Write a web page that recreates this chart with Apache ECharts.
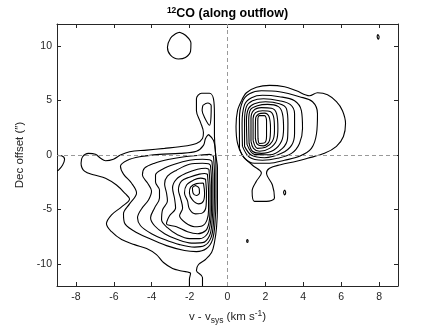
<!DOCTYPE html>
<html><head><meta charset="utf-8">
<script src="https://cdn.jsdelivr.net/npm/echarts@6/dist/echarts.min.js"></script>
<style>html,body{margin:0;padding:0;background:#fff}#c{width:440px;height:330px}</style>
</head><body><div id="c"></div>
<script>
const xTicks = [-8, -6, -4, -2, 0, 2, 4, 6, 8];
const yTicks = [-10, -5, 0, 5, 10];

// Blue-shifted lobe contours (v, offset), outermost first
const blueC1 = [[-1.32,-12],[-1.32,-11.21],[-1.64,-10.57],[-1.53,-10.03],[-1.16,-9.57],[-0.84,-8.94],[-0.69,-8.03],[-0.58,-6.66],[-0.53,-4.85],[-0.53,-3.03],[-0.53,-1.21],[-0.63,0.15],[-0.69,1.97],[-0.69,3.79],[-0.74,5.15],[-0.95,5.65],[-1.37,5.65],[-1.64,5.15],[-1.64,4.06],[-1.42,2.97],[-1.27,2.06],[-1.32,1.52],[-1.64,1.06],[-2.53,0.75],[-3.32,0.61],[-4.27,0.45],[-5.17,0.30],[-5.65,0.0],[-6.02,-0.39],[-6.44,-0.53],[-6.70,-0.30],[-6.97,0.06],[-7.34,0.15],[-7.65,-0.16],[-7.73,-0.75],[-7.55,-1.48],[-7.02,-1.84],[-6.44,-2.12],[-5.86,-2.75],[-5.38,-3.57],[-5.17,-4.03],[-5.59,-4.75],[-6.12,-5.48],[-6.39,-6.30],[-6.12,-7.03],[-5.59,-7.75],[-4.91,-8.21],[-4.27,-8.57],[-3.75,-9.12],[-3.38,-9.85],[-2.90,-10.39],[-2.43,-10.62],[-1.95,-10.85],[-2.01,-11.39],[-2.01,-12]];
const blueC2 = [[-1.00,1.88],[-0.74,1.34],[-0.63,0.15],[-0.61,-1.66],[-0.61,-3.94],[-0.66,-6.21],[-0.79,-7.75],[-1.11,-8.57],[-1.64,-8.85],[-2.27,-8.75],[-3.22,-8.30],[-4.12,-7.66],[-4.96,-6.94],[-5.44,-6.21],[-5.49,-5.39],[-5.17,-4.48],[-4.80,-3.48],[-5.07,-2.57],[-5.49,-1.75],[-5.65,-1.03],[-5.28,-0.48],[-4.64,-0.16],[-3.59,0.06],[-2.53,0.15],[-1.64,0.34],[-1.27,0.88],[-1.16,1.52]];
const blueC3 = [[-0.74,-0.12],[-0.69,-1.66],[-0.69,-3.94],[-0.74,-6.21],[-0.87,-7.57],[-1.21,-8.30],[-1.74,-8.44],[-2.53,-8.21],[-3.32,-7.75],[-4.01,-7.21],[-4.59,-6.48],[-4.75,-5.75],[-4.54,-4.94],[-4.17,-4.12],[-4.01,-3.30],[-4.22,-2.57],[-4.49,-1.84],[-4.38,-1.21],[-3.85,-0.75],[-3.06,-0.39],[-2.27,-0.16],[-1.48,-0.03],[-0.95,0.06]];
const blueC4 = [[-0.82,-0.57],[-0.77,-2.12],[-0.77,-4.39],[-0.82,-6.21],[-0.95,-7.39],[-1.32,-8.03],[-1.90,-8.07],[-2.64,-7.75],[-3.32,-7.21],[-3.85,-6.48],[-4.06,-5.75],[-3.85,-4.85],[-3.59,-3.94],[-3.59,-3.21],[-3.80,-2.48],[-3.80,-1.84],[-3.43,-1.30],[-2.80,-0.85],[-2.01,-0.48],[-1.32,-0.39],[-0.95,-0.44]];
const blueC5 = [[-0.90,-0.94],[-0.84,-2.57],[-0.84,-4.66],[-0.90,-6.21],[-1.06,-7.21],[-1.48,-7.66],[-2.01,-7.66],[-2.64,-7.30],[-3.17,-6.66],[-3.48,-5.94],[-3.43,-5.03],[-3.17,-4.21],[-3.22,-3.48],[-3.32,-2.66],[-3.17,-1.94],[-2.69,-1.39],[-2.01,-0.85],[-1.32,-0.75],[-1.00,-0.80]];
const blueC6 = [[-0.98,-1.30],[-0.92,-3.03],[-0.92,-4.85],[-0.98,-6.21],[-1.16,-6.94],[-1.58,-7.21],[-2.11,-7.03],[-2.69,-6.57],[-3.22,-6.30],[-3.06,-5.57],[-2.74,-4.85],[-2.80,-3.94],[-2.90,-3.03],[-2.69,-2.21],[-2.16,-1.66],[-1.58,-1.30],[-1.16,-1.21]];
const blueC7 = [[-1.06,-1.75],[-1.00,-3.48],[-1.00,-5.03],[-1.08,-5.94],[-1.32,-6.48],[-1.74,-6.57],[-2.22,-6.21],[-2.53,-5.57],[-2.37,-4.85],[-2.48,-3.94],[-2.59,-3.21],[-2.43,-2.39],[-2.01,-2.03],[-1.48,-1.75],[-1.21,-1.70]];
const blueC8 = [[-1.16,-2.21],[-1.11,-3.48],[-1.13,-4.66],[-1.32,-5.30],[-1.69,-5.39],[-2.01,-4.94],[-2.11,-4.21],[-2.27,-3.48],[-2.16,-2.75],[-1.79,-2.30],[-1.42,-2.12]];
const blueC9 = [[-1.27,-2.57],[-1.21,-3.48],[-1.27,-4.21],[-1.53,-4.48],[-1.85,-4.12],[-2.01,-3.48],[-1.95,-2.94],[-1.64,-2.62]];
const blueC10 = [[-1.69,-2.80],[-1.50,-3.03],[-1.48,-3.48],[-1.64,-3.71],[-1.82,-3.48],[-1.85,-3.03]];
const fingerC2 = [[-1.30,4.55],[-1.04,4.76],[-0.86,4.52],[-0.87,3.52],[-0.95,2.73],[-1.21,3.43],[-1.34,4.09]];

// Red-shifted lobe contours
const redC1 = [[0.74,4.97],[1.0,5.70],[1.53,6.20],[2.22,6.38],[3.01,6.25],[3.64,5.88],[4.33,5.43],[4.75,5.70],[5.28,5.52],[5.75,4.88],[6.07,4.06],[6.23,2.88],[6.12,1.70],[5.75,0.79],[5.12,0.15],[4.22,-0.30],[3.64,-0.57],[2.80,-0.89],[2.22,-1.21],[2.06,-1.66],[2.37,-2.75],[2.48,-3.94],[2.06,-4.25],[1.42,-4.25],[1.30,-3.30],[1.53,-2.39],[1.79,-1.66],[1.32,-0.94],[0.79,-0.03],[0.53,1.06],[0.45,2.61],[0.53,4.06]];
const redC2 = [[0.63,0.61],[0.63,3.34],[0.79,4.88],[1.16,5.61],[1.79,5.88],[2.74,5.79],[3.80,5.34],[4.49,4.88],[4.75,3.79],[4.70,1.97],[4.43,0.61],[3.80,-0.12],[3.01,-0.48],[2.22,-0.75],[1.42,-0.75],[0.90,-0.30]];
const redC3 = [[0.79,0.79],[0.77,2.88],[0.90,4.61],[1.27,5.25],[1.85,5.47],[2.74,5.34],[3.54,4.97],[3.90,4.06],[3.96,2.43],[3.80,1.06],[3.38,0.15],[2.64,-0.30],[1.85,-0.48],[1.16,-0.21]];
const redC4 = [[0.90,0.79],[0.90,3.15],[1.00,4.43],[1.32,4.97],[1.90,5.15],[2.74,4.97],[3.32,4.61],[3.54,3.79],[3.54,1.97],[3.38,0.88],[2.85,0.15],[1.95,-0.25],[1.27,-0.03]];
const redC5 = [[1.03,0.97],[1.00,3.15],[1.11,4.25],[1.42,4.70],[2.01,4.88],[2.74,4.70],[3.11,4.25],[3.19,2.88],[3.17,1.52],[2.90,0.61],[2.22,0.02],[1.42,0.06]];
const redC6 = [[1.14,1.06],[1.12,3.15],[1.21,4.15],[1.58,4.52],[2.11,4.64],[2.69,4.43],[2.90,3.79],[2.96,2.43],[2.85,1.25],[2.43,0.43],[1.79,0.15],[1.32,0.34]];
const redC7 = [[1.24,1.25],[1.24,3.34],[1.37,4.06],[1.79,4.34],[2.32,4.29],[2.59,3.79],[2.66,2.43],[2.59,1.34],[2.22,0.61],[1.69,0.34],[1.37,0.61]];
const redC8 = [[1.35,1.34],[1.35,3.34],[1.48,3.88],[1.85,4.06],[2.27,3.97],[2.45,3.34],[2.48,2.25],[2.37,1.25],[2.01,0.70],[1.58,0.61]];
const redC9 = [[1.47,1.52],[1.48,3.25],[1.64,3.75],[1.95,3.84],[2.19,3.52],[2.27,2.43],[2.22,1.34],[1.90,0.84],[1.58,0.97]];
const redC10 = [[1.61,1.52],[1.60,3.15],[1.69,3.61],[1.95,3.61],[2.06,3.15],[2.06,1.70],[1.95,1.11],[1.69,1.06]];

// Small isolated contours
const topBlob = [[-2.53,11.25],[-2.22,10.97],[-1.93,10.25],[-1.95,9.52],[-2.22,8.93],[-2.59,8.79],[-3.01,9.15],[-3.17,9.88],[-3.01,10.70],[-2.74,11.11]];
const cornerBlob = [[7.93,11.05],[8.0,10.85],[7.96,10.6],[7.9,10.85]];
const edgeArc = [[-9.0,-0.03],[-8.76,-0.07],[-8.60,-0.39],[-8.71,-0.94],[-8.92,-1.39],[-9.0,-1.44]];
const dotA = [[3.01,-3.2],[3.07,-3.4],[3.02,-3.65],[2.96,-3.42]];
const dotB = [[1.05,-7.72],[1.09,-7.85],[1.05,-8.0],[1.01,-7.87]];

const openContours = [blueC1, edgeArc];
const closedContours = [blueC2, blueC3, blueC4, blueC5, blueC6, blueC7, blueC8, blueC9, blueC10, fingerC2,
  redC1, redC2, redC3, redC4, redC5, redC6, redC7, redC8, redC9, redC10, topBlob, cornerBlob, dotA, dotB];

const FONT = 'Liberation Sans, Arial, Helvetica, sans-serif';
const AX = '#262626';

function mk(data, closed) {
  const d = closed ? data.concat([data[0]]) : data;
  return { type: 'line', data: d, symbol: 'none', smooth: 0.35, silent: true,
    lineStyle: { color: '#000', width: 1.1 }, z: 3 };
}
const series = [];
openContours.forEach(c => series.push(mk(c, false)));
closedContours.forEach(c => series.push(mk(c, true)));
series[0].markLine = { silent: true, symbol: 'none', label: { show: false },
  lineStyle: { type: [4, 3], color: '#999', width: 1 }, data: [{ xAxis: 0 }, { yAxis: 0 }] };

const axCommon = {
  type: 'value', splitLine: { show: false },
  axisLine: { show: true, onZero: false, lineStyle: { color: AX, width: 1 } },
};
const chart = echarts.init(document.getElementById('c'), null, { renderer: 'canvas' });
chart.setOption({
  animation: false,
  backgroundColor: '#fff',
  grid: { left: 57, right: 42, top: 24, bottom: 41 },
  xAxis: [
    Object.assign({}, axCommon, { min: -9, max: 9, position: 'bottom',
      axisTick: { inside: true, length: 4, customValues: xTicks, lineStyle: { color: AX } },
      axisLabel: { customValues: xTicks, color: AX, fontSize: 10.5, fontFamily: FONT, margin: 6 },
      name: '{n|v - v}{sub|sys}{n| (km s}{sup|-1}{n|)}', nameLocation: 'middle', nameGap: 23,
      nameTextStyle: { color: AX, fontFamily: FONT, rich: {
        n: { fontSize: 11.5, fontFamily: FONT, color: AX, lineHeight: 16 },
        sub: { fontSize: 8.5, fontFamily: FONT, color: AX, verticalAlign: 'bottom', lineHeight: 10, padding: [6, 0, 0, 0] },
        sup: { fontSize: 8.5, fontFamily: FONT, color: AX, verticalAlign: 'top', lineHeight: 10, padding: [0, 0, 5, 0] } } } }),
    Object.assign({}, axCommon, { min: -9, max: 9, position: 'top',
      axisTick: { inside: true, length: 4, customValues: xTicks, lineStyle: { color: AX } },
      axisLabel: { show: false } })
  ],
  yAxis: [
    Object.assign({}, axCommon, { min: -12, max: 12, position: 'left',
      axisTick: { inside: true, length: 4, customValues: yTicks, lineStyle: { color: AX } },
      axisLabel: { customValues: yTicks, color: AX, fontSize: 10.5, fontFamily: FONT, margin: 5 },
      name: 'Dec offset (\u2033)', nameLocation: 'middle', nameGap: 27,
      nameTextStyle: { color: AX, fontSize: 11.5, fontFamily: FONT } }),
    Object.assign({}, axCommon, { min: -12, max: 12, position: 'right',
      axisTick: { inside: true, length: 4, customValues: yTicks, lineStyle: { color: AX } },
      axisLabel: { show: false } })
  ],
  graphic: [{
    type: 'text', x: 227.5, y: 14, z: 10,
    style: { text: '{sup|12}{b|CO (along outflow)}', align: 'center', verticalAlign: 'middle',
      rich: {
        b: { fontSize: 12.5, fontWeight: 'bold', fontFamily: FONT, fill: '#000', lineHeight: 16 },
        sup: { fontSize: 8.5, fontWeight: 'bold', fontFamily: FONT, fill: '#000', verticalAlign: 'top', lineHeight: 10, padding: [0, 0, 5, 0] }
      } }
  }],
  series: series
});
</script></body></html>
